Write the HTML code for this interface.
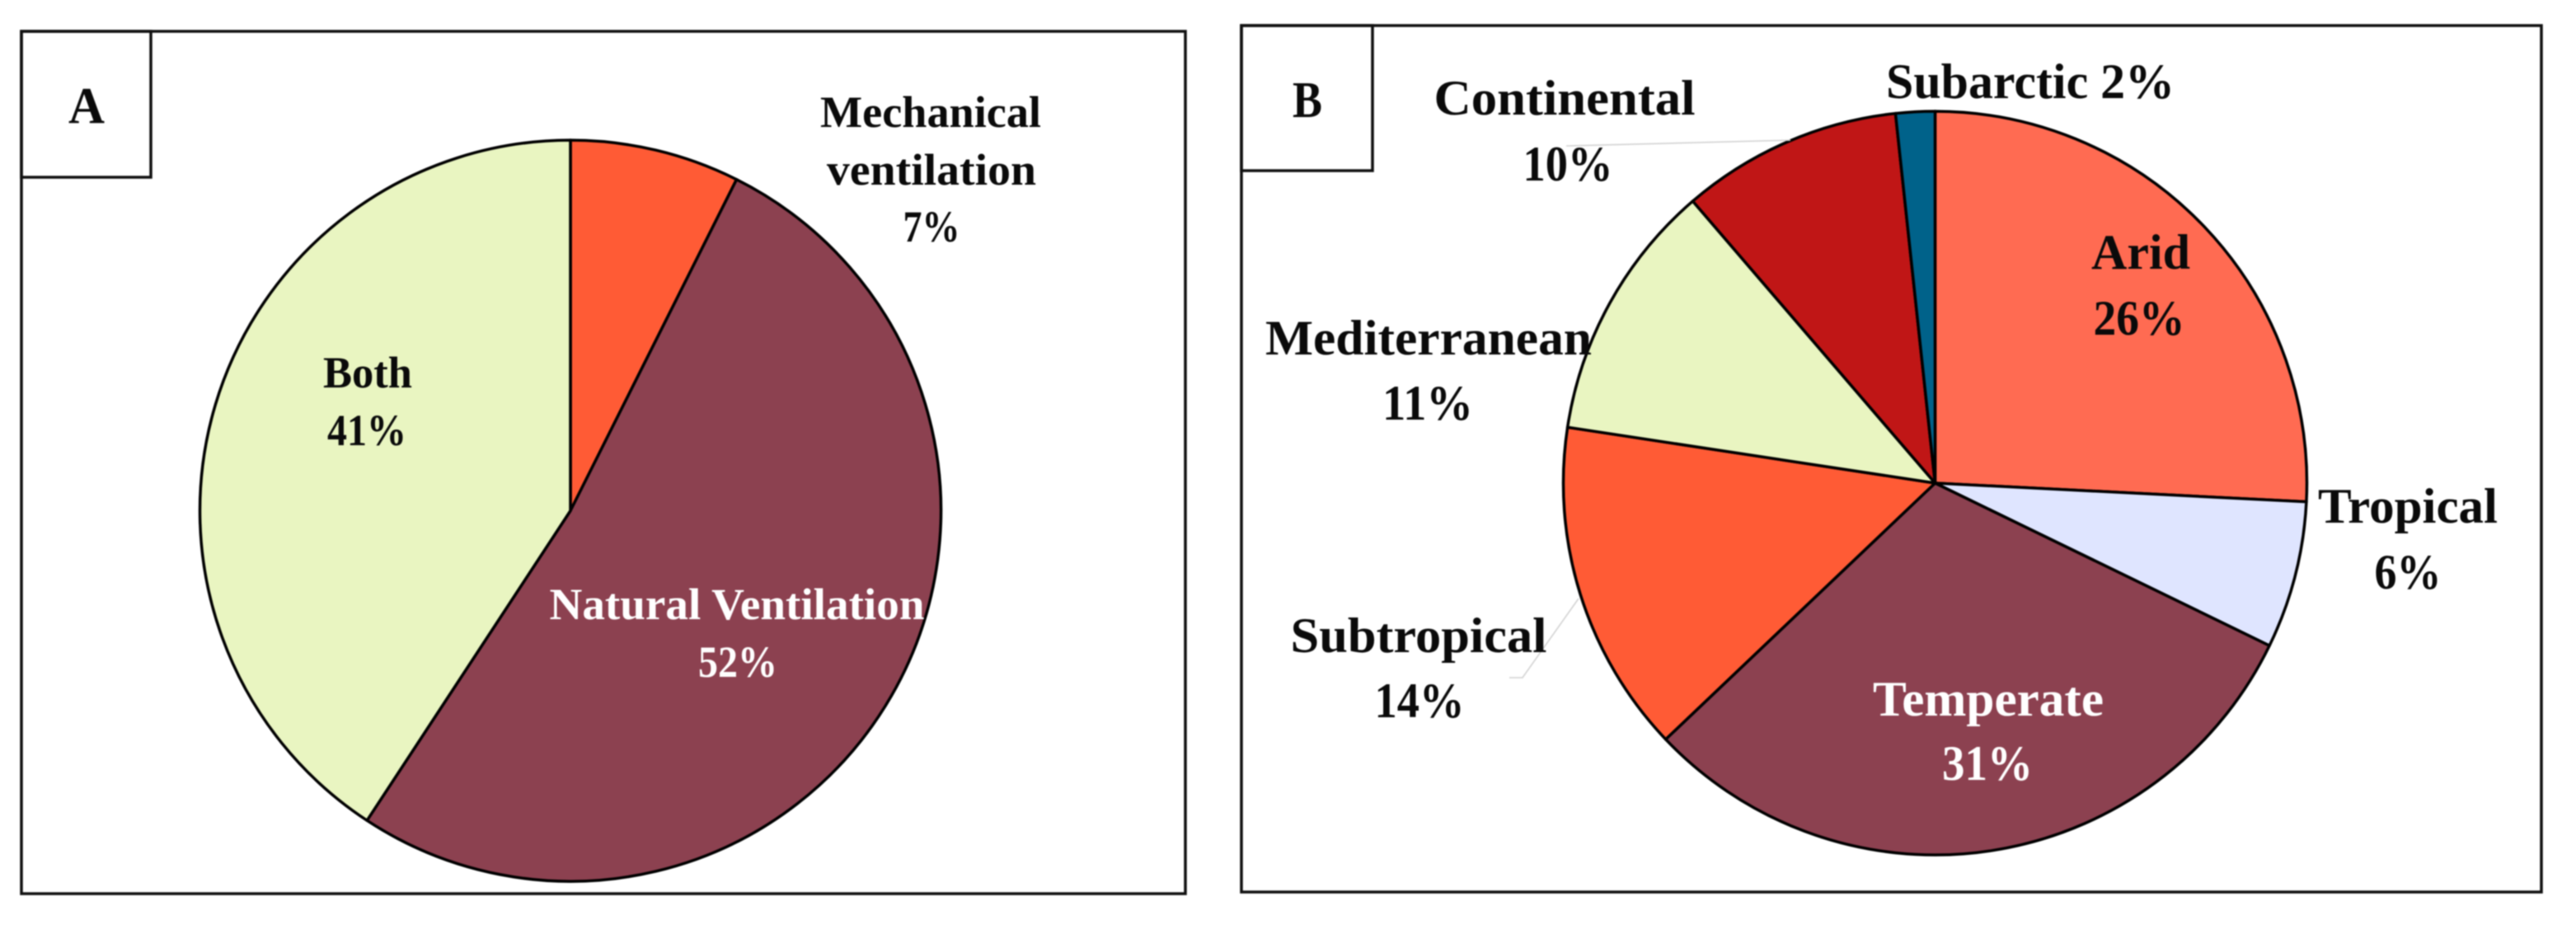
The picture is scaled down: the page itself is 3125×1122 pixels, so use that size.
<!DOCTYPE html>
<html lang="en">
<head>
<meta charset="utf-8">
<title>Ventilation type and climate distribution pie charts</title>
<style>
  html, body { margin: 0; padding: 0; background: #fff; width: 3125px; height: 1122px; overflow: hidden; }
  svg { display: block; filter: blur(0.7px); }
  text { font-family: "Liberation Serif", serif; font-weight: bold; fill: #0a0a0a; text-anchor: middle; }
  .a { font-size: 54px; }
  .b { font-size: 60px; }
  .tag { font-size: 62px; }
  .light { fill: #fff; }
  .frame { fill: none; stroke: #111; stroke-width: 3.5; }
  .leader { fill: none; stroke: #d2d2d2; stroke-width: 1.6; }
</style>
</head>
<body>
<svg id="figure" xmlns="http://www.w3.org/2000/svg" width="3125" height="1122" viewBox="0 0 3125 1122">
  <rect width="3125" height="1122" fill="#fff"/>

  <g>
    <rect class="frame" x="26" y="38" width="1412" height="1046"/>
    <rect class="frame" x="26" y="38" width="157" height="177"/>
    <text class="tag" x="105" y="149" textLength="44" lengthAdjust="spacingAndGlyphs">A</text>
    <g id="pie-a"></g>
    <text class="a" x="1129" y="154" textLength="268" lengthAdjust="spacingAndGlyphs">Mechanical</text>
    <text class="a" x="1130" y="224" textLength="254" lengthAdjust="spacingAndGlyphs">ventilation</text>
    <text class="a" x="1130" y="293" textLength="69" lengthAdjust="spacingAndGlyphs">7%</text>
    <text class="a" x="446" y="470" textLength="108" lengthAdjust="spacingAndGlyphs">Both</text>
    <text class="a" x="445" y="540" textLength="96" lengthAdjust="spacingAndGlyphs">41%</text>
    <text class="a light" x="894" y="751" textLength="455" lengthAdjust="spacingAndGlyphs">Natural Ventilation</text>
    <text class="a light" x="895" y="821" textLength="96" lengthAdjust="spacingAndGlyphs">52%</text>
  </g>

  <g>
    <rect class="frame" x="1506" y="31" width="1577" height="1051"/>
    <rect class="frame" x="1506" y="31" width="159" height="176"/>
    <text class="tag" x="1586" y="142" textLength="36" lengthAdjust="spacingAndGlyphs">B</text>
    <g id="pie-b"></g>
    <path class="leader" d="M2172 170 L1900 177"/>
    <path class="leader" d="M1915 726 L1847 822 L1831 822"/>
    <text class="b" x="2463" y="119" textLength="350" lengthAdjust="spacingAndGlyphs">Subarctic 2%</text>
    <text class="b" x="1898" y="139" textLength="317" lengthAdjust="spacingAndGlyphs">Continental</text>
    <text class="b" x="1902" y="219" textLength="109" lengthAdjust="spacingAndGlyphs">10%</text>
    <text class="b" x="2597" y="326" textLength="120" lengthAdjust="spacingAndGlyphs">Arid</text>
    <text class="b" x="2595" y="406" textLength="111" lengthAdjust="spacingAndGlyphs">26%</text>
    <text class="b" x="1733" y="430" textLength="396" lengthAdjust="spacingAndGlyphs">Mediterranean</text>
    <text class="b" x="1732" y="509" textLength="110" lengthAdjust="spacingAndGlyphs">11%</text>
    <text class="b" x="2921" y="634" textLength="218" lengthAdjust="spacingAndGlyphs">Tropical</text>
    <text class="b" x="2921" y="714" textLength="81" lengthAdjust="spacingAndGlyphs">6%</text>
    <text class="b" x="1721" y="791" textLength="311" lengthAdjust="spacingAndGlyphs">Subtropical</text>
    <text class="b" x="1722" y="870" textLength="109" lengthAdjust="spacingAndGlyphs">14%</text>
    <text class="b light" x="2412" y="868" textLength="280" lengthAdjust="spacingAndGlyphs">Temperate</text>
    <text class="b light" x="2411" y="946" textLength="110" lengthAdjust="spacingAndGlyphs">31%</text>
  </g>
</svg>

<script>
var ventilationCategories = ['mechanical', 'natural', 'both'];
var ventilationValues = [7.4, 51.85, 40.75];
var ventilationColors = ['#FF5B35', '#8C4150', '#E9F5C1'];

var climateCategories = ['arid', 'tropical', 'temperate', 'subtropical', 'mediterranean', 'continental', 'subarctic'];
var climateValues = [25.8, 6.4, 30.7, 14.5, 11.3, 9.6, 1.7];
var climateColors = ['#FF6B52', '#DFE5FF', '#8C4150', '#FF5B35', '#E9F5C1', '#C01616', '#00628A'];

var SVG_NS = 'http://www.w3.org/2000/svg';

function angleScale(value, total) {
  return (value / total) * Math.PI * 2;
}

function polar(cx, cy, r, angle) {
  return [cx + r * Math.sin(angle), cy - r * Math.cos(angle)];
}

function drawPie(groupId, categories, values, colors, cx, cy, r) {
  var group = document.getElementById(groupId);
  var total = values.reduce(function (s, v) { return s + v; }, 0);
  var start = 0;
  for (var i = 0; i < values.length; i++) {
    var sweep = angleScale(values[i], total);
    var end = start + sweep;
    var p0 = polar(cx, cy, r, start);
    var p1 = polar(cx, cy, r, end);
    var large = sweep > Math.PI ? 1 : 0;
    var el = document.createElementNS(SVG_NS, 'path');
    el.setAttribute('d', 'M' + cx + ' ' + cy + ' L' + p0[0] + ' ' + p0[1] +
      ' A' + r + ' ' + r + ' 0 ' + large + ' 1 ' + p1[0] + ' ' + p1[1] + ' Z');
    el.setAttribute('fill', colors[i]);
    el.setAttribute('stroke', '#000');
    el.setAttribute('stroke-width', '3.5');
    el.setAttribute('stroke-linejoin', 'round');
    
    
    group.appendChild(el);
    start = end;
  }
}

drawPie('pie-a', ventilationCategories, ventilationValues, ventilationColors, 692, 619.5, 449.5);
drawPie('pie-b', climateCategories, climateValues, climateColors, 2347.5, 586, 451);
</script>
</body>
</html>
